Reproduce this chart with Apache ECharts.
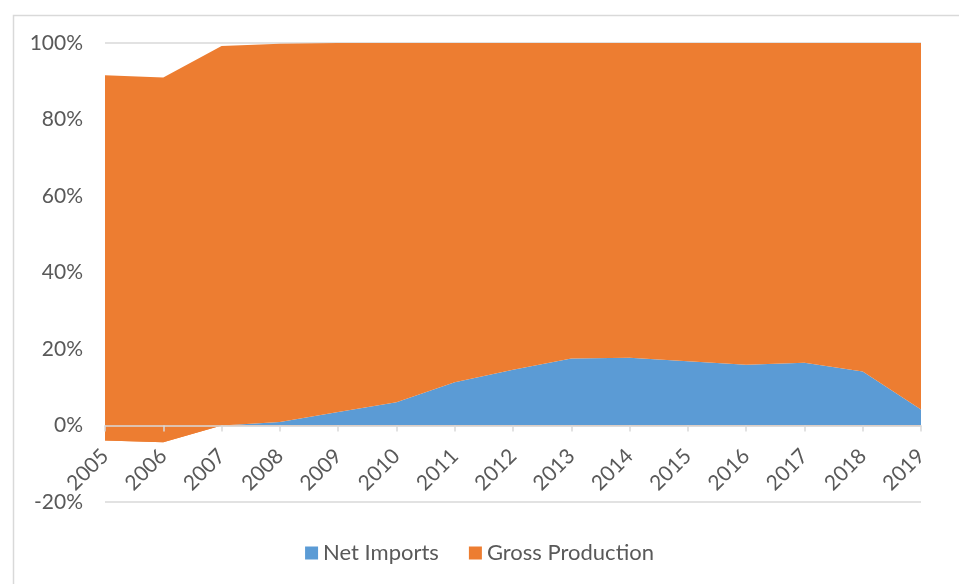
<!DOCTYPE html>
<html>
<head>
<meta charset="utf-8">
<script src="https://cdn.jsdelivr.net/npm/echarts@6/dist/echarts.min.js"></script>
<style>
html,body{margin:0;padding:0;background:#fff;}
#chart{width:959px;height:584px;}
</style>
</head>
<body>
<div id="chart"></div>
<script>
const years = ['2005','2006','2007','2008','2009','2010','2011','2012','2013','2014','2015','2016','2017','2018','2019'];
const netImports = [-3.9, -4.4, 0, 0.9, 3.5, 6.1, 11.3, 14.6, 17.5, 17.7, 16.8, 15.9, 16.4, 14.1, 4.2];
const grossProduction = [95.5, 95.4, 99.2, 98.9, 96.5, 93.9, 88.7, 85.4, 82.5, 82.3, 83.2, 84.1, 83.6, 85.9, 95.8];
const yTicks = {min: -20, max: 100, interval: 20};

const BLUE = '#5B9BD5', ORANGE = '#ED7D31', TXT = '#595959', FONT = 'Lato';
const GRID = {left: 105, right: 38, top: 43, bottom: 82};
const plotH = 584 - GRID.top - GRID.bottom;
const zeroOffset = -plotH * (0 - yTicks.min) / (yTicks.max - yTicks.min);

const chart = echarts.init(document.getElementById('chart'));
chart.setOption({
  animation: false,
  textStyle: {fontFamily: FONT},
  graphic: [{
    type: 'rect', left: 11, top: 13, shape: {width: 1000, height: 1000},
    style: {fill: 'none', stroke: '#d9d9d9', lineWidth: 1.5}, z: -10, silent: true
  }],
  grid: Object.assign({containLabel: false}, GRID),
  legend: {
    bottom: 15, left: 'center', itemWidth: 13, itemHeight: 13, itemGap: 30,
    icon: 'rect',
    textStyle: {color: TXT, fontSize: 22, fontFamily: FONT},
    data: [{name: 'Net Imports', itemStyle: {color: BLUE}}, {name: 'Gross Production', itemStyle: {color: ORANGE}}]
  },
  visualMap: {
    show: false, type: 'piecewise', seriesIndex: 0, dimension: 1,
    pieces: [{gte: -100, lt: 0, color: ORANGE}, {gte: 0, lte: 200, color: BLUE}]
  },
  xAxis: {
    type: 'category', data: years, boundaryGap: false, z: 5,
    offset: zeroOffset,
    axisLine: {onZero: false, lineStyle: {color: '#d9d9d9', width: 1.5}},
    axisTick: {show: true, interval: 0, length: 6, lineStyle: {color: '#d9d9d9', width: 1.5}},
    axisLabel: {interval: 0, rotate: 45, color: TXT, fontSize: 21, fontFamily: FONT, margin: 27}
  },
  yAxis: {
    type: 'value', min: yTicks.min, max: yTicks.max, interval: yTicks.interval,
    axisLine: {show: false}, axisTick: {show: false},
    splitLine: {lineStyle: {color: '#d9d9d9', width: 1.5}},
    axisLabel: {formatter: '{value}%', color: TXT, fontSize: 21, fontFamily: FONT, margin: 22}
  },
  series: [
    {
      name: 'Net Imports', type: 'line', stack: 'total', stackStrategy: 'all',
      data: netImports, symbol: 'none', lineStyle: {width: 0},
      itemStyle: {color: BLUE},
      areaStyle: {opacity: 1}, z: 2
    },
    {
      name: 'Gross Production', type: 'line', stack: 'total', stackStrategy: 'all',
      data: grossProduction, symbol: 'none', lineStyle: {width: 0},
      itemStyle: {color: ORANGE},
      areaStyle: {opacity: 1, color: ORANGE}, z: 3
    }
  ]
});
</script>
</body>
</html>
